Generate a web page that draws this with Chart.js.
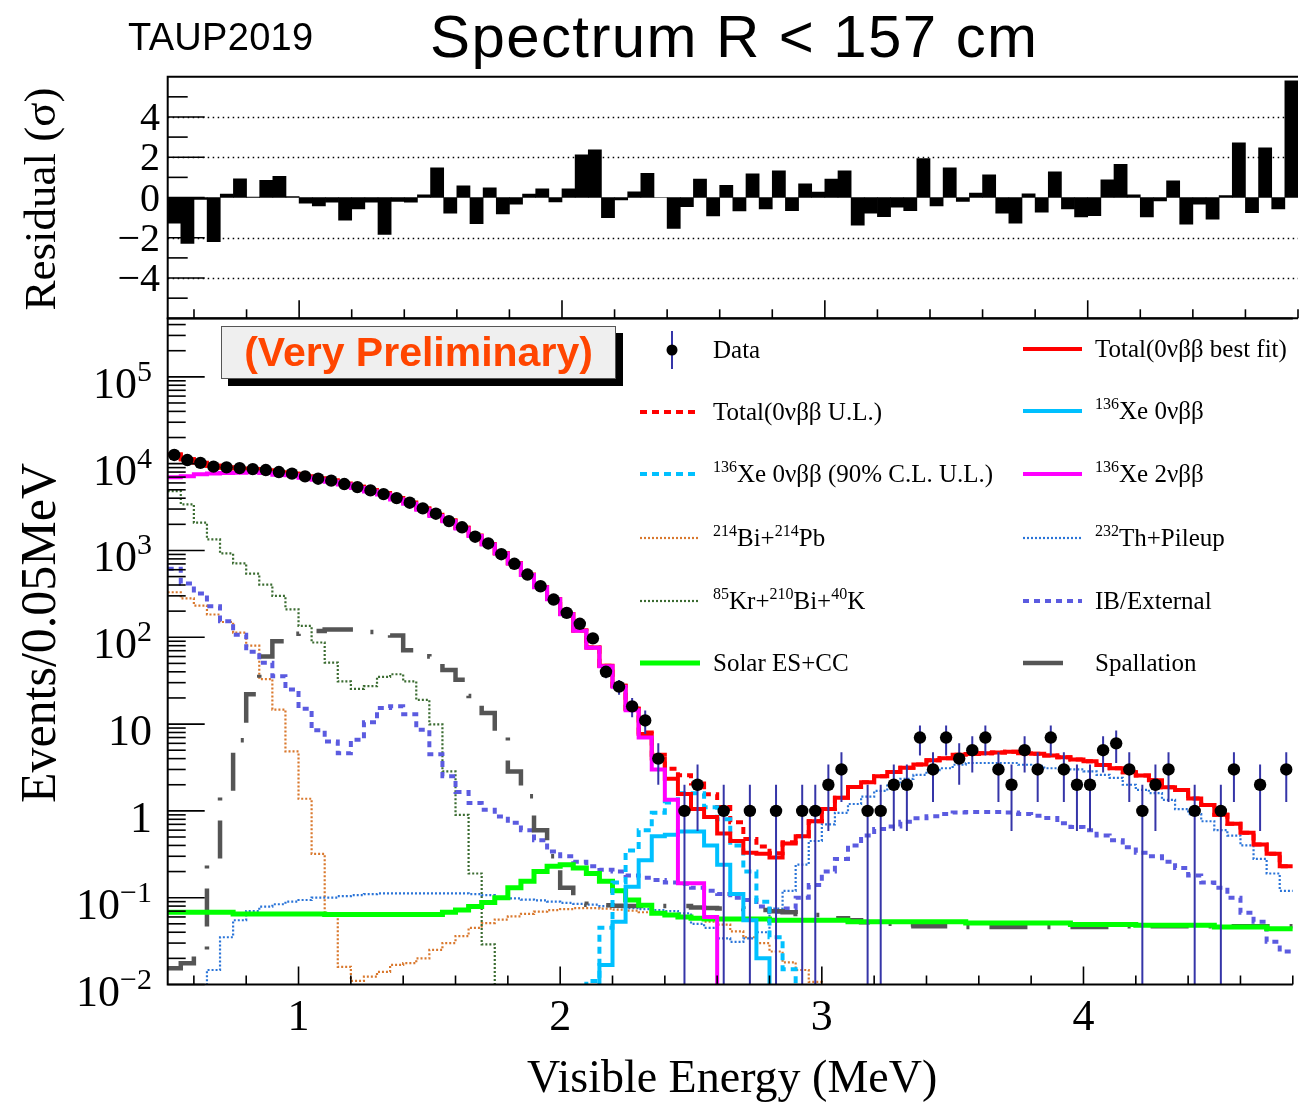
<!DOCTYPE html>
<html><head><meta charset="utf-8">
<script src="https://cdn.jsdelivr.net/npm/chart.js@4.4.1/dist/chart.umd.min.js"></script>
<style>
html,body{margin:0;padding:0;background:#fff;}
#wrap{position:relative;width:1299px;height:1105px;overflow:hidden;background:#fff;}
canvas{position:absolute;left:0;top:0;}
.t{position:absolute;white-space:nowrap;line-height:1;color:#000;}
.serif{font-family:"Liberation Serif","Times New Roman",serif;}
.sans{font-family:"Liberation Sans",Arial,sans-serif;}
.rot{transform:translate(-50%,-50%) rotate(-90deg);}
.leg{position:absolute;font-family:"Liberation Serif","Times New Roman",serif;font-size:25px;line-height:1;white-space:nowrap;color:#000;}
.leg sup{font-size:16px;vertical-align:0;position:relative;top:-10px;}
#prelim{position:absolute;left:221px;top:326px;width:393px;height:51px;background:#efefef;border:1px solid #555;box-shadow:7px 7px 0 #000;
 font-family:"Liberation Sans",Arial,sans-serif;font-weight:bold;font-size:41px;line-height:51px;text-align:center;color:#ff4500;white-space:nowrap;}
</style></head>
<body><div id="wrap">
<canvas id="cRes" width="1299" height="1105"></canvas>
<canvas id="cMain" width="1299" height="1105"></canvas>

<div class="t sans" style="left:128px;top:18px;font-size:38px;letter-spacing:0.3px;">TAUP2019</div>
<div class="t sans" style="left:430px;top:7px;font-size:60px;letter-spacing:1.4px;">Spectrum R &lt; 157 cm</div>
<div class="t serif rot" style="left:40px;top:199px;font-size:45px;">Residual (σ)</div>
<div class="t serif rot" style="left:38px;top:633px;font-size:50px;">Events/0.05MeV</div>
<div class="t serif" style="left:527px;top:1054px;font-size:46px;">Visible Energy (MeV)</div>
<div id="prelim">(Very Preliminary)</div>

<div class="leg" style="left:713px;top:337px;">Data</div>
<div class="leg" style="left:713px;top:399px;">Total(0νββ U.L.)</div>
<div class="leg" style="left:713px;top:461px;"><sup>136</sup>Xe 0νββ (90% C.L. U.L.)</div>
<div class="leg" style="left:713px;top:525px;"><sup>214</sup>Bi+<sup>214</sup>Pb</div>
<div class="leg" style="left:713px;top:588px;"><sup>85</sup>Kr+<sup>210</sup>Bi+<sup>40</sup>K</div>
<div class="leg" style="left:713px;top:650px;">Solar ES+CC</div>
<div class="leg" style="left:1095px;top:336px;">Total(0νββ best fit)</div>
<div class="leg" style="left:1095px;top:398px;"><sup>136</sup>Xe 0νββ</div>
<div class="leg" style="left:1095px;top:461px;"><sup>136</sup>Xe 2νββ</div>
<div class="leg" style="left:1095px;top:525px;"><sup>232</sup>Th+Pileup</div>
<div class="leg" style="left:1095px;top:588px;">IB/External</div>
<div class="leg" style="left:1095px;top:650px;">Spallation</div>
</div>
<script>
// ---------------- binning ----------------
const NBINS = 86, E_MIN = 0.5, BIN_W = 0.05;
const X_MIN = 0.5, X_MAX = 4.8;
const Y_MIN = 0.01, Y_MAX = 4.7e5;
const RES_MIN = -6, RES_MAX = 6;

// ---------------- data (events / 0.05 MeV) ----------------
const dataCounts = [12600, 11000, 10200, 9230, 9060, 8890, 8660, 8440, 8000, 7670,
 7130, 6710, 6370, 5820, 5370, 4920, 4460, 4010, 3550, 3050,
 2650, 2180, 1850, 1440, 1205, 906, 702, 528, 387, 272,
 191, 143, 97, 40, 27, 16, 11, 4, 0, 1,
 2, 0, 1, 0, 1, 0, 1, 0, 1, 1,
 2, 3, 0, 1, 1, 2, 2, 7, 3, 7,
 4, 5, 7, 3, 2, 5, 3, 7, 3, 2,
 2, 5, 6, 3, 1, 2, 3, 0, 1, 0,
 1, 3, 0, 2, 0, 3];

const residuals = [-1.28, -2.28, -0.1, -2.2, 0.17, 0.93, 0.02, 0.85, 1.05, 0.05,
 -0.28, -0.42, -0.23, -1.13, -0.57, -0.23, -1.83, -0.2, -0.23, 0.13,
 1.47, -0.78, 0.58, -1.3, 0.48, -0.82, -0.33, 0.17, 0.43, -0.22,
 0.43, 2.12, 2.37, -1.0, -0.12, 0.28, 1.2, 0.0, -1.53, -0.45,
 0.92, -0.92, 0.6, -0.67, 1.18, -0.57, 1.33, -0.65, 0.68, 0.27,
 0.92, 1.33, -1.37, -0.78, -0.95, -0.48, -0.65, 1.93, -0.42, 1.47,
 -0.2, 0.22, 1.12, -0.78, -1.28, 0.18, -0.73, 1.27, -0.57, -0.97,
 -0.9, 0.88, 1.65, 0.13, -0.97, -0.17, 0.83, -1.32, -0.33, -1.08,
 0.1, 2.72, -0.75, 2.47, -0.57, 5.8];

const totalBest = [12740, 11240, 10210, 9440, 9044, 8800, 8660, 8360, 7906, 7666,
 7154, 6744, 6388, 5906, 5412, 4936, 4582, 4023, 3564, 3043,
 2574, 2216, 1825, 1489, 1188, 931, 711, 524, 379, 276,
 185, 120, 76, 47, 27.6, 14.9, 7.7, 4, 2.34, 1.56,
 1.05, 0.85, 0.55, 0.45, 0.33, 0.32, 0.29, 0.42, 0.51, 0.76,
 1.05, 1.42, 1.88, 2.14, 2.50, 2.80, 3.15, 3.43, 3.82, 4.04,
 4.42, 4.53, 4.60, 4.69, 4.81, 4.61, 4.56, 4.35, 4.16, 3.92,
 3.74, 3.38, 3.10, 2.78, 2.55, 2.26, 1.87, 1.74, 1.39, 1.17,
 0.90, 0.71, 0.56, 0.41, 0.32, 0.23];

const totalUL = [12740, 11240, 10210, 9440, 9044, 8800, 8660, 8360, 7906, 7666,
 7154, 6744, 6388, 5906, 5412, 4936, 4582, 4023, 3564, 3043,
 2574, 2216, 1825, 1489, 1188, 931, 711, 524, 379, 276,
 185, 120, 76, 47, 27.7, 15.1, 8.0, 4.44, 3.06, 2.58,
 2.07, 1.55, 1.11, 0.74, 0.475, 0.39, 0.325, 0.435, 0.51, 0.76,
 1.05, 1.42, 1.88, 2.14, 2.50, 2.80, 3.15, 3.43, 3.82, 4.04,
 4.42, 4.53, 4.60, 4.69, 4.81, 4.61, 4.56, 4.35, 4.16, 3.92,
 3.74, 3.38, 3.10, 2.78, 2.55, 2.26, 1.87, 1.74, 1.39, 1.17,
 0.90, 0.71, 0.56, 0.41, 0.32, 0.23];

const xe0v = [0, 0, 0, 0, 0, 0, 0, 0, 0, 0,
 0, 0, 0, 0, 0, 0, 0, 0, 0, 0,
 0, 0, 0, 0, 0, 0, 0, 0, 0, 0,
 0, 0, 0, 0.0168, 0.053, 0.134, 0.27, 0.51, 0.53, 0.58,
 0.58, 0.40, 0.24, 0.11, 0.055, 0.02, 0, 0, 0, 0,
 0, 0, 0, 0, 0, 0, 0, 0, 0, 0,
 0, 0, 0, 0, 0, 0, 0, 0, 0, 0,
 0, 0, 0, 0, 0, 0, 0, 0, 0, 0,
 0, 0, 0, 0, 0, 0];

const xe0vUL = [0, 0, 0, 0, 0, 0, 0, 0, 0, 0,
 0, 0, 0, 0, 0, 0, 0, 0, 0, 0,
 0, 0, 0, 0, 0, 0, 0, 0, 0, 0,
 0, 0, 0.011, 0.045, 0.15, 0.35, 0.6, 0.95, 1.25, 1.6,
 1.6, 1.1, 0.8, 0.4, 0.2, 0.09, 0.035, 0.015, 0, 0,
 0, 0, 0, 0, 0, 0, 0, 0, 0, 0,
 0, 0, 0, 0, 0, 0, 0, 0, 0, 0,
 0, 0, 0, 0, 0, 0, 0, 0, 0, 0,
 0, 0, 0, 0, 0, 0];

const xe2v = [6965, 7144, 7569, 7689, 7814, 7863, 7950, 7811, 7466, 7331,
 6893, 6530, 6208, 5747, 5257, 4783, 4422, 3864, 3449, 2944,
 2500, 2169, 1790, 1467, 1173, 923, 707, 522, 378, 275,
 184, 119, 75.5, 46.3, 27.0, 14.4, 7.0, 3.0, 1.34, 0.147,
 0.147, 0.06, 0, 0, 0, 0, 0, 0, 0, 0,
 0, 0, 0, 0, 0, 0, 0, 0, 0, 0,
 0, 0, 0, 0, 0, 0, 0, 0, 0, 0,
 0, 0, 0, 0, 0, 0, 0, 0, 0, 0,
 0, 0, 0, 0, 0, 0];

const biPb = [330, 280, 232, 183, 150, 113, 80, 33, 14.7, 4.84,
 1.38, 0.32, 0.063, 0.016, 0.011, 0.0123, 0.014, 0.0168, 0.0176, 0.02,
 0.025, 0.03, 0.036, 0.045, 0.051, 0.056, 0.061, 0.065, 0.069, 0.072,
 0.074, 0.076, 0.076, 0.075, 0.073, 0.071, 0.068, 0.065, 0.062, 0.06,
 0.057, 0.053, 0.049, 0.041, 0.035, 0.03, 0.024, 0.018, 0.0147, 0.0107,
 0, 0, 0, 0, 0, 0, 0, 0, 0, 0,
 0, 0, 0, 0, 0, 0, 0, 0, 0, 0,
 0, 0, 0, 0, 0, 0, 0, 0, 0, 0,
 0, 0, 0, 0, 0, 0];

const thPileup = [0, 0, 0, 0.0147, 0.035, 0.055, 0.07, 0.079, 0.084, 0.09,
 0.094, 0.1, 0.1, 0.104, 0.107, 0.11, 0.112, 0.112, 0.112, 0.112,
 0.112, 0.112, 0.112, 0.11, 0.107, 0.1, 0.098, 0.095, 0.093, 0.09,
 0.087, 0.085, 0.083, 0.08, 0.078, 0.076, 0.074, 0.072, 0.07, 0.066,
 0.05, 0.045, 0.034, 0.031, 0.034, 0.04, 0.075, 0.12, 0.24, 0.45,
 0.7, 0.95, 1.2, 1.46, 1.7, 2.05, 2.34, 2.6, 2.95, 3.1,
 3.4, 3.56, 3.56, 3.56, 3.56, 3.4, 3.3, 3.1, 3.1, 3.0,
 2.85, 2.6, 2.4, 2.0, 1.75, 1.6, 1.34, 1.05, 0.92, 0.76,
 0.6, 0.52, 0.4, 0.28, 0.19, 0.12];

const krBiK = [4830, 3400, 2090, 1340, 925, 710, 540, 405, 300, 210,
 135, 87, 51, 31, 25.5, 27.3, 35, 37.5, 31, 19,
 9.9, 2.85, 0.9, 0.19, 0.029, 0, 0, 0, 0, 0,
 0, 0, 0, 0, 0, 0, 0, 0, 0, 0,
 0, 0, 0, 0, 0, 0, 0, 0, 0, 0,
 0, 0, 0, 0, 0, 0, 0, 0, 0, 0,
 0, 0, 0, 0, 0, 0, 0, 0, 0, 0,
 0, 0, 0, 0, 0, 0, 0, 0, 0, 0,
 0, 0, 0, 0, 0, 0];

const ibExternal = [615, 416, 319, 228, 153, 107, 68, 51, 35.5, 25,
 15, 8.5, 6.3, 4.6, 6.6, 10.5, 15.3, 16, 13, 8.6,
 4.5, 2.5, 1.65, 1.23, 1.03, 0.86, 0.73, 0.6, 0.46, 0.34,
 0.3, 0.26, 0.23, 0.21, 0.2, 0.18, 0.17, 0.16, 0.15, 0.145,
 0.13, 0.12, 0.11, 0.1, 0.094, 0.079, 0.069, 0.075, 0.1, 0.14,
 0.2, 0.28, 0.4, 0.52, 0.62, 0.66, 0.75, 0.82, 0.87, 0.92,
 0.96, 0.97, 0.97, 0.97, 0.96, 0.92, 0.88, 0.83, 0.72, 0.65,
 0.6, 0.52, 0.46, 0.38, 0.33, 0.3, 0.26, 0.22, 0.18, 0.15,
 0.13, 0.1, 0.067, 0.053, 0.031, 0.024];

const solarEsCc = [0.068, 0.068, 0.068, 0.068, 0.068, 0.065, 0.065, 0.065, 0.065, 0.065,
 0.065, 0.065, 0.064, 0.064, 0.064, 0.064, 0.064, 0.064, 0.064, 0.064,
 0.064, 0.068, 0.072, 0.079, 0.088, 0.1, 0.13, 0.155, 0.2, 0.23,
 0.24, 0.22, 0.19, 0.155, 0.12, 0.094, 0.082, 0.066, 0.063, 0.06,
 0.058, 0.057, 0.057, 0.057, 0.057, 0.057, 0.055, 0.055, 0.055, 0.055,
 0.055, 0.055, 0.053, 0.053, 0.053, 0.053, 0.053, 0.053, 0.053, 0.053,
 0.053, 0.051, 0.051, 0.051, 0.051, 0.051, 0.051, 0.051, 0.051, 0.049,
 0.049, 0.049, 0.049, 0.049, 0.048, 0.048, 0.048, 0.048, 0.048, 0.048,
 0.046, 0.046, 0.046, 0.046, 0.044, 0.044];

const spallation = [0.0154, 0.0176, 0.023, 0.24, 1.7, 6.5, 22, 60, 90, 95,
 110, 118, 123, 123, 123, 115, 110, 105, 71, 71,
 60, 42, 32.5, 21, 13.4, 7.2, 2.85, 1.47, 0.6, 0.3,
 0.13, 0.085, 0.083, 0.082, 0.081, 0.08, 0.08, 0.08, 0.08, 0.08,
 0.077, 0.076, 0.075, 0.075, 0.074, 0.072, 0.07, 0.068, 0.065, 0.063,
 0.06, 0.058, 0.055, 0.052, 0.05, 0.05, 0.049, 0.047, 0.047, 0.047,
 0.046, 0.046, 0.046, 0.046, 0.046, 0.046, 0.046, 0.046, 0.046, 0.046,
 0.046, 0.046, 0.046, 0.047, 0.047, 0.047, 0.047, 0.047, 0.047, 0.047,
 0.047, 0.047, 0.047, 0.047, 0.047, 0.047];

// ---------------- tick labels ----------------
const xTickLabels = [1, 2, 3, 4];
const resTickLabels = [4, 2, 0, -2, -4];
const resDottedLevels = [4, 2, -2, -4];
const logTickLabels = [
  {v: 1e-2, base: '10', exp: '−2'}, {v: 1e-1, base: '10', exp: '−1'},
  {v: 1, base: '1', exp: ''}, {v: 10, base: '10', exp: ''},
  {v: 1e2, base: '10', exp: '2'}, {v: 1e3, base: '10', exp: '3'},
  {v: 1e4, base: '10', exp: '4'}, {v: 1e5, base: '10', exp: '5'}
];

// ---------------- styles ----------------
const ST = {
  total:   {c: '#ff0000', w: 4, d: []},
  totalUL: {c: '#ff0000', w: 4, d: [7, 5]},
  xe0v:    {c: '#00c0ff', w: 4, d: []},
  xe0vUL:  {c: '#00c0ff', w: 4, d: [7, 5]},
  xe2v:    {c: '#ff00ff', w: 4, d: []},
  bi:      {c: '#d9782d', w: 2.2, d: [2, 2]},
  th:      {c: '#2a74d8', w: 2.2, d: [2, 2]},
  kr:      {c: '#3a6b30', w: 2.2, d: [2, 2]},
  ib:      {c: '#5b5be0', w: 4, d: [6, 5]},
  solar:   {c: '#00ff00', w: 5, d: []},
  spall:   {c: '#555555', w: 4.5, d: [38, 20, 3, 20]},
  err:     {c: '#3535a8', w: 2}
};

// ---------------- build tables ----------------
const FLOOR = 1e-4;
const edges = [];
for (let k = 0; k <= NBINS; k++) edges.push(+(E_MIN + k * BIN_W).toFixed(4));
const centers = [];
for (let k = 0; k < NBINS; k++) centers.push(+(E_MIN + (k + 0.5) * BIN_W).toFixed(4));

function histPoints(vals) {
  const pts = [];
  vals.forEach((v, k) => {
    const y = v > 0 ? v : FLOOR;
    pts.push({x: edges[k], y: y}, {x: edges[k + 1], y: y});
  });
  return pts;
}
function histDS(vals, st, order) {
  return {type: 'line', data: histPoints(vals), borderColor: st.c, borderWidth: st.w,
    borderDash: st.d, pointRadius: 0, pointHoverRadius: 0, fill: false, tension: 0,
    order: order, borderCapStyle: 'butt', borderJoinStyle: 'miter', spanGaps: false};
}
const dataPts = [], errPts = [];
dataCounts.forEach((d, k) => {
  if (d > 0) {
    const e = Math.sqrt(d);
    dataPts.push({x: centers[k], y: d});
    errPts.push({x: centers[k], y: Math.max(d - e, FLOOR)}, {x: centers[k], y: d + e}, {x: centers[k], y: null});
  }
});

// ---------------- residual chart ----------------
const resDecor = {
  id: 'resDecor',
  beforeDatasetsDraw(chart) {
    const {ctx, chartArea: a, scales: {y}} = chart;
    ctx.save();
    ctx.strokeStyle = '#000'; ctx.lineWidth = 1.4; ctx.setLineDash([1.5, 3.5]);
    resDottedLevels.forEach(v => {
      const py = Math.round(y.getPixelForValue(v)) + 0.5;
      ctx.beginPath(); ctx.moveTo(a.left, py); ctx.lineTo(a.right, py); ctx.stroke();
    });
    ctx.restore();
  },
  afterDraw(chart) {
    const {ctx, chartArea: a, scales: {x, y}} = chart;
    ctx.save();
    ctx.setLineDash([]); ctx.strokeStyle = '#000';
    ctx.lineWidth = 2;
    ctx.beginPath(); ctx.moveTo(a.right, a.top); ctx.lineTo(a.left, a.top); ctx.lineTo(a.left, a.bottom); ctx.lineTo(a.right, a.bottom); ctx.stroke();
    ctx.lineWidth = 1.6;
    for (let v = RES_MIN + 1; v < RES_MAX; v++) {
      const py = y.getPixelForValue(v);
      const len = (v % 2 === 0) ? 37 : 20;
      ctx.beginPath(); ctx.moveTo(a.left, py); ctx.lineTo(a.left + len, py); ctx.stroke();
    }
    for (let i = 3; i <= 24; i++) {
      const v = i * 0.2; const px = x.getPixelForValue(v);
      const len = (i % 5 === 0) ? 18 : 9;
      ctx.beginPath(); ctx.moveTo(px, a.bottom); ctx.lineTo(px, a.bottom - len); ctx.stroke();
    }
    ctx.fillStyle = '#000';
    ctx.font = '40px "Liberation Serif", "Times New Roman", serif';
    ctx.textAlign = 'right'; ctx.textBaseline = 'alphabetic';
    resTickLabels.forEach(v => {
      const py = y.getPixelForValue(v);
      ctx.fillText(v < 0 ? '−' + Math.abs(v) : String(v), 160, py + 13);
    });
    ctx.restore();
  }
};

new Chart(document.getElementById('cRes'), {
  type: 'bar',
  data: {datasets: [{
    data: residuals.map((r, k) => ({x: centers[k], y: r})),
    backgroundColor: '#000', borderWidth: 0, barPercentage: 1, categoryPercentage: 1
  }]},
  options: {
    responsive: false, animation: false, events: [],
    layout: {padding: {left: 167.7, right: 1, top: 76.7, bottom: 786.7}},
    plugins: {legend: {display: false}, tooltip: {enabled: false}},
    scales: {
      x: {type: 'linear', min: X_MIN, max: X_MAX, offset: false, display: false},
      y: {type: 'linear', min: RES_MIN, max: RES_MAX, display: false}
    }
  },
  plugins: [resDecor]
});

// ---------------- main chart ----------------
function legLine(ctx, x1, x2, y, st) {
  ctx.save();
  ctx.strokeStyle = st.c; ctx.lineWidth = st.w; ctx.setLineDash(st.d || []);
  ctx.lineCap = 'butt';
  ctx.beginPath(); ctx.moveTo(x1, y); ctx.lineTo(x2, y); ctx.stroke();
  ctx.restore();
}
const mainDecor = {
  id: 'mainDecor',
  afterDraw(chart) {
    const {ctx, chartArea: a, scales: {x, y}} = chart;
    ctx.save();
    ctx.setLineDash([]); ctx.strokeStyle = '#000';
    ctx.lineWidth = 2;
    ctx.beginPath(); ctx.moveTo(a.right, a.top); ctx.lineTo(a.left, a.top); ctx.lineTo(a.left, a.bottom); ctx.lineTo(a.right, a.bottom); ctx.stroke();
    ctx.lineWidth = 1.6;
    for (let e = -2; e <= 5; e++) {
      for (let m = 1; m <= 9; m++) {
        const v = m * Math.pow(10, e);
        if (v > Y_MAX) break;
        const py = y.getPixelForValue(v);
        const len = m === 1 ? 37 : 18;
        ctx.beginPath(); ctx.moveTo(a.left, py); ctx.lineTo(a.left + len, py); ctx.stroke();
      }
    }
    for (let i = 3; i <= 24; i++) {
      const v = i * 0.2; const px = x.getPixelForValue(v);
      const len = (i % 5 === 0) ? 18 : 9;
      ctx.beginPath(); ctx.moveTo(px, a.bottom); ctx.lineTo(px, a.bottom - len); ctx.stroke();
    }
    // y labels
    ctx.fillStyle = '#000'; ctx.textBaseline = 'alphabetic'; ctx.textAlign = 'right';
    const baseF = '44px "Liberation Serif", "Times New Roman", serif';
    const supF = '30px "Liberation Serif", "Times New Roman", serif';
    logTickLabels.forEach(t => {
      const py = y.getPixelForValue(t.v);
      const xr = 152;
      if (t.exp) {
        ctx.font = supF; const w = ctx.measureText(t.exp).width;
        ctx.fillText(t.exp, xr, py + 4);
        ctx.font = baseF; ctx.fillText(t.base, xr - w, py + 21);
      } else {
        ctx.font = baseF; ctx.fillText(t.base, xr, py + 21);
      }
    });
    // x labels
    ctx.textAlign = 'center'; ctx.font = baseF;
    xTickLabels.forEach(v => { ctx.fillText(String(v), x.getPixelForValue(v), 1030); });
    ctx.restore();

    // legend symbols
    const L1 = 640, L2 = 700, R1 = 1023, R2 = 1082;
    ctx.save();
    ctx.strokeStyle = ST.err.c; ctx.lineWidth = ST.err.w;
    ctx.beginPath(); ctx.moveTo(672, 331); ctx.lineTo(672, 369); ctx.stroke();
    ctx.fillStyle = '#000'; ctx.beginPath(); ctx.arc(672, 350, 5.5, 0, Math.PI * 2); ctx.fill();
    ctx.restore();
    legLine(ctx, L1, L2, 412, ST.totalUL);
    legLine(ctx, L1, L2, 474, ST.xe0vUL);
    legLine(ctx, L1, L2, 538, ST.bi);
    legLine(ctx, L1, L2, 601, ST.kr);
    legLine(ctx, L1, L2, 663, ST.solar);
    legLine(ctx, R1, R2, 349, ST.total);
    legLine(ctx, R1, R2, 411, ST.xe0v);
    legLine(ctx, R1, R2, 474, ST.xe2v);
    legLine(ctx, R1, R2, 538, ST.th);
    legLine(ctx, R1, R2, 601, ST.ib);
    legLine(ctx, R1, 1063, 663, {c: ST.spall.c, w: ST.spall.w, d: []});
  }
};

new Chart(document.getElementById('cMain'), {
  type: 'line',
  data: {datasets: [
    {type: 'line', label: 'Data', data: dataPts, showLine: false, pointRadius: 6.2, pointHoverRadius: 0,
      pointBackgroundColor: '#000', pointBorderColor: '#000', pointBorderWidth: 0, order: 0},
    {type: 'line', label: 'err', data: errPts, borderColor: ST.err.c, borderWidth: ST.err.w,
      pointRadius: 0, pointHoverRadius: 0, spanGaps: false, fill: false, order: 1},
    Object.assign(histDS(xe2v, ST.xe2v, 2), {label: '136Xe 2νββ'}),
    Object.assign(histDS(totalBest, ST.total, 3), {label: 'Total(0νββ best fit)'}),
    Object.assign(histDS(xe0v, ST.xe0v, 4), {label: '136Xe 0νββ'}),
    Object.assign(histDS(xe0vUL, ST.xe0vUL, 5), {label: '136Xe 0νββ (90% C.L. U.L.)'}),
    Object.assign(histDS(totalUL, ST.totalUL, 6), {label: 'Total(0νββ U.L.)'}),
    Object.assign(histDS(solarEsCc, ST.solar, 7), {label: 'Solar ES+CC'}),
    Object.assign(histDS(spallation, ST.spall, 8), {label: 'Spallation'}),
    Object.assign(histDS(ibExternal, ST.ib, 9), {label: 'IB/External'}),
    Object.assign(histDS(thPileup, ST.th, 10), {label: '232Th+Pileup'}),
    Object.assign(histDS(krBiK, ST.kr, 11), {label: '85Kr+210Bi+40K'}),
    Object.assign(histDS(biPb, ST.bi, 12), {label: '214Bi+214Pb'})
  ]},
  options: {
    responsive: false, animation: false, events: [],
    layout: {padding: {left: 167.7, right: 1, top: 318.5, bottom: 120.5}},
    plugins: {legend: {display: false}, tooltip: {enabled: false}},
    scales: {
      x: {type: 'linear', min: X_MIN, max: X_MAX, display: false},
      y: {type: 'logarithmic', min: Y_MIN, max: Y_MAX, display: false}
    }
  },
  plugins: [mainDecor]
});
</script>
</body></html>
